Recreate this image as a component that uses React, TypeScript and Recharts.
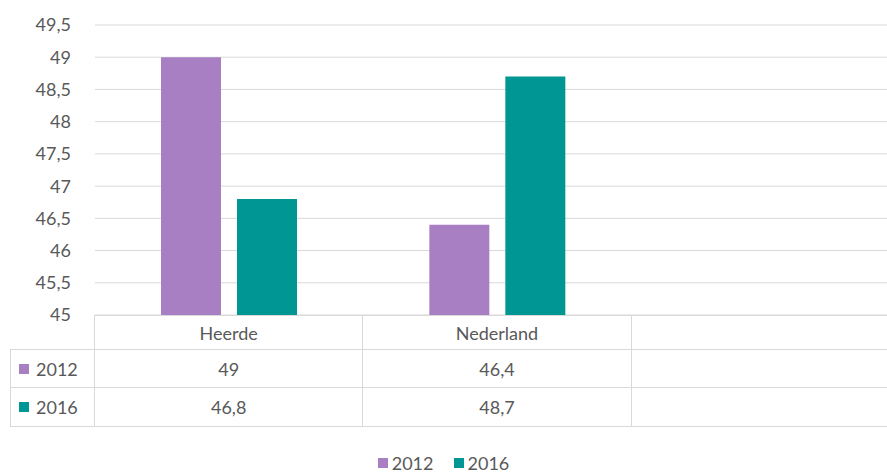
import { Bar, BarChart, CartesianGrid, Legend, XAxis, YAxis } from 'recharts'

const categories = ['Heerde', 'Nederland', '']
const values2012 = [49, 46.4, null]
const values2016 = [46.8, 48.7, null]
const yTicks = [45, 45.5, 46, 46.5, 47, 47.5, 48, 48.5, 49, 49.5]

const series = [
  { key: 'y2012', name: '2012', values: values2012, color: '#a97fc4' },
  { key: 'y2016', name: '2016', values: values2016, color: '#009694' },
]

const W = 887
const H = 475
// plot area runs slightly past the right edge, like the original
const CHART_W = 900
const PLOT_LEFT = 95
const PLOT_TOP = 25
const PLOT_BOTTOM = 315
const FONT = 'Lato, "Open Sans", sans-serif'
const TEXT = '#595959'
const LINE = '#d9d9d9'

const fmt = (v: number | null) => (v == null ? '' : String(v).replace('.', ','))

export default function App() {
  const data = categories.map((c, i) => ({
    name: c,
    y2012: values2012[i],
    y2016: values2016[i],
  }))

  const bandW = (CHART_W - PLOT_LEFT) / categories.length
  const rowH = [35, 38, 39]

  const cell = (w: number, h: number, extra: React.CSSProperties = {}) => ({
    width: w,
    height: h,
    boxSizing: 'border-box' as const,
    display: 'flex',
    alignItems: 'center',
    justifyContent: 'center',
    borderRight: `1px solid ${LINE}`,
    borderBottom: `1px solid ${LINE}`,
    ...extra,
  })

  return (
    <div
      style={{
        position: 'fixed',
        left: 0,
        top: 0,
        width: W,
        height: H,
        overflow: 'hidden',
        background: '#fff',
        fontFamily: FONT,
        color: TEXT,
      }}
    >
      <BarChart
        width={CHART_W}
        height={H}
        data={data}
        barSize={60}
        barGap={16}
        margin={{ top: PLOT_TOP, right: 0, left: 0, bottom: 0 }}
      >
        <CartesianGrid stroke={LINE} vertical={false} />
        <XAxis dataKey="name" hide />
        <YAxis
          width={PLOT_LEFT}
          domain={[45, 49.5]}
          ticks={yTicks}
          tickFormatter={fmt}
          axisLine={false}
          tickLine={false}
          tickSize={0}
          tickMargin={24}
          tick={{ fill: TEXT, fontSize: 18, fontFamily: FONT }}
        />
        <Legend
          verticalAlign="bottom"
          height={H - PLOT_BOTTOM}
          content={() => (
            <div
              style={{
                width: W,
                display: 'flex',
                justifyContent: 'center',
                gap: 20,
                paddingTop: 137,
                fontSize: 18,
                fontFamily: FONT,
                color: TEXT,
              }}
            >
              {series.map((s) => (
                <span key={s.key} style={{ display: 'flex', alignItems: 'center' }}>
                  <span
                    style={{ width: 10, height: 10, background: s.color, marginRight: 4 }}
                  />
                  {s.name}
                </span>
              ))}
            </div>
          )}
        />
        {series.map((s) => (
          <Bar
            key={s.key}
            dataKey={s.key}
            name={s.name}
            fill={s.color}
            isAnimationActive={false}
          />
        ))}
      </BarChart>

      <div
        style={{
          position: 'absolute',
          left: 10,
          top: PLOT_BOTTOM,
          fontSize: 18,
          fontFamily: FONT,
          color: TEXT,
        }}
      >
        <div style={{ display: 'flex' }}>
          <div style={cell(PLOT_LEFT - 10, rowH[0])} />
          {categories.map((c, i) => (
            <div
              key={i}
              style={cell(bandW, rowH[0], {
                borderTop: `1px solid ${LINE}`,
                borderRight: i === categories.length - 1 ? 'none' : `1px solid ${LINE}`,
              })}
            >
              {c}
            </div>
          ))}
        </div>
        {series.map((s, r) => (
          <div key={s.key} style={{ display: 'flex' }}>
            <div
              style={cell(PLOT_LEFT - 10, rowH[r + 1], {
                borderLeft: `1px solid ${LINE}`,
                justifyContent: 'flex-start',
                paddingLeft: 8,
              })}
            >
              <span
                style={{ width: 10, height: 10, background: s.color, marginRight: 7 }}
              />
              {s.name}
            </div>
            {s.values.map((v, i) => (
              <div
                key={i}
                style={cell(bandW, rowH[r + 1], {
                  borderRight:
                    i === categories.length - 1 ? 'none' : `1px solid ${LINE}`,
                })}
              >
                {fmt(v)}
              </div>
            ))}
          </div>
        ))}
      </div>
    </div>
  )
}
